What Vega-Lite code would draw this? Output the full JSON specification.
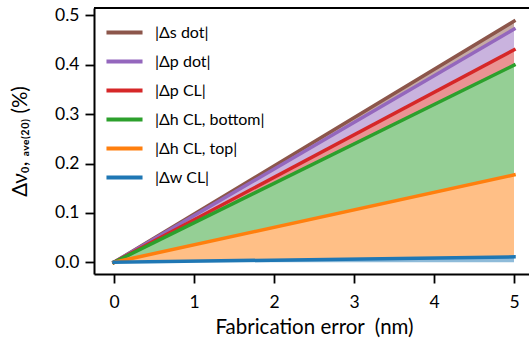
{
  "$schema": "https://vega.github.io/schema/vega-lite/v6.json",
  "width": 435,
  "height": 266,
  "autosize": {"type": "none"},
  "padding": {"left": 94, "top": 8, "right": 0, "bottom": 76},
  "config": {
    "view": {"stroke": null},
    "font": "Lato",
    "axis": {
      "domainColor": "black", "domainWidth": 2,
      "tickColor": "black", "tickWidth": 1.8, "tickSize": 9,
      "labelFont": "Lato", "labelFontSize": 17.5, "labelColor": "black",
      "titleFont": "Lato", "titleFontSize": 20.5, "titleFontWeight": "normal", "titleColor": "black",
      "grid": false
    },
    "legend": {
      "orient": "none", "legendX": 10, "legendY": 4, "title": null,
      "symbolType": "stroke", "symbolSize": 1300, "symbolStrokeWidth": 4,
      "labelFontSize": 16, "labelFont": "Lato", "labelColor": "black",
      "rowPadding": -7, "labelOffset": 10
    }
  },
  "datasets": {
    "d": [
      {"series": "|Δs dot|", "x": 0, "y": 0, "lo": 0},
      {"series": "|Δs dot|", "x": 5, "y": 0.488, "lo": 0.472},
      {"series": "|Δp dot|", "x": 0, "y": 0, "lo": 0},
      {"series": "|Δp dot|", "x": 5, "y": 0.472, "lo": 0.430},
      {"series": "|Δp CL|", "x": 0, "y": 0, "lo": 0},
      {"series": "|Δp CL|", "x": 5, "y": 0.430, "lo": 0.399},
      {"series": "|Δh CL, bottom|", "x": 0, "y": 0, "lo": 0},
      {"series": "|Δh CL, bottom|", "x": 5, "y": 0.399, "lo": 0.177},
      {"series": "|Δh CL, top|", "x": 0, "y": 0, "lo": 0},
      {"series": "|Δh CL, top|", "x": 5, "y": 0.177, "lo": 0.011},
      {"series": "|Δw CL|", "x": 0, "y": 0, "lo": 0},
      {"series": "|Δw CL|", "x": 5, "y": 0.011, "lo": 0}
    ]
  },
  "data": {"name": "d"},
  "layer": [
    {
      "mark": {"type": "area", "opacity": 0.5},
      "encoding": {
        "x": {"field": "x", "type": "quantitative", "scale": {"domain": [-0.25, 5.1875], "nice": false, "zero": false},
              "axis": {"values": [0,1,2,3,4,5], "format": "d", "labelPadding": 10, "title": "Fabrication error\u00a0 (nm)", "titlePadding": 7, "titleX": 220}},
        "y": {"field": "y", "type": "quantitative", "scale": {"domain": [-0.0237, 0.5148], "nice": false, "zero": false},
              "axis": {"values": [0, 0.1, 0.2, 0.3, 0.4, 0.5], "format": ".1f", "labelPadding": 6, "title": "Δν₀, ₐᵥₑ₍₂₀₎ (%)", "titlePadding": 24}},
        "y2": {"field": "lo"},
        "color": {"field": "series", "type": "nominal",
                  "scale": {"domain": ["|Δs dot|", "|Δp dot|", "|Δp CL|", "|Δh CL, bottom|", "|Δh CL, top|", "|Δw CL|"],
                            "range": ["#8c564b", "#9467bd", "#d62728", "#2ca02c", "#ff7f0e", "#1f77b4"]},
                  "legend": {"symbolType": "stroke", "symbolOpacity": 1, "symbolStrokeWidth": 4, "symbolFillColor": "transparent"}}
      }
    },
    {
      "mark": {"type": "line", "strokeWidth": 3.5, "strokeCap": "square"},
      "encoding": {
        "x": {"field": "x", "type": "quantitative"},
        "y": {"field": "y", "type": "quantitative"},
        "color": {"field": "series", "type": "nominal"},
        "order": {"field": "series"}
      }
    },
    {
      "mark": {"type": "rule", "color": "black", "strokeWidth": 2},
      "encoding": {"y": {"datum": 0.5148}}
    }
  ]
}
